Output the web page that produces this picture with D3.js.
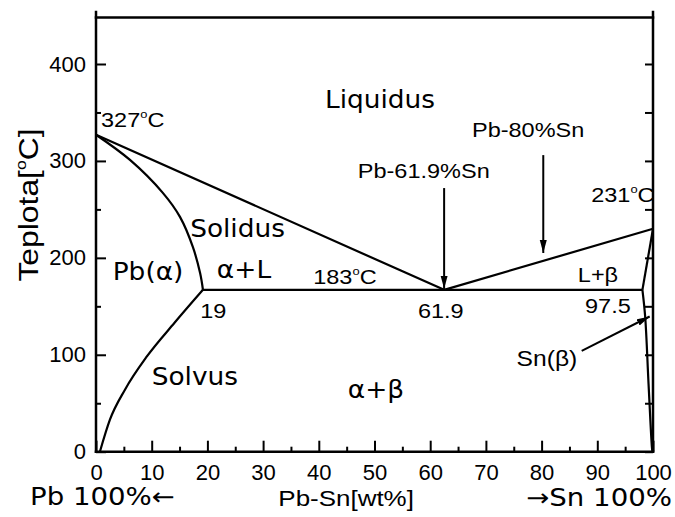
<!DOCTYPE html>
<html>
<head>
<meta charset="utf-8">
<script src="https://cdn.jsdelivr.net/npm/d3@7"></script>
<style>
  body { margin: 0; background: #fff; }
</style>
</head>
<body>
<svg width="675" height="517"></svg>
<script>
// phase boundaries, points are [wt% Sn, temperature]
var liquidus = [[0, 327], [62.5, 167], [100, 230]];
var solidusLeft = [[0, 327], [6.1, 301], [12, 267], [15.1, 242], [17.4, 211], [18.7, 184], [19.2, 167]];
var solvusLeft = [[0.7, 0], [2.5, 33], [5.2, 64], [9.1, 98], [14.1, 133], [19.2, 167]];
var eutectic = [[19.2, 167], [98.1, 167]];
var solidusRight = [[98.1, 167], [100, 230]];
var solvusRight = [[98.1, 167], [98.6, 139], [99.2, 70], [99.8, 5], [99.9, 0]];

// tick values
var xTicks = [0, 10, 20, 30, 40, 50, 60, 70, 80, 90, 100];
var xMinor = [5, 15, 25, 35, 45, 55, 65, 75, 85, 95];
var yTicks = [0, 100, 200, 300, 400];
var yMinor = [50, 150, 250, 350];

// arrows, [from, to]
var arrows = [
  [[62.5, 272], [62.5, 168]],
  [[80.3, 306], [80.3, 205]],
  [[87.2, 104], [99.4, 139.5]]
];

// region names [text, x, y]
var regionLabels = [
  ["Liquidus", 41.1, 354.7],
  ["Solidus", 16.9, 221.6],
  ["Pb(α)", 3.0, 177],
  ["α+L", 21.7, 179],
  ["Solvus", 10, 68.8],
  ["α+β", 45.2, 55.4]
];

// point / composition notes [text, x, y]
var pointLabels = [
  ["327°C", 0.9, 335],
  ["183°C", 39, 173],
  ["231°C", 88.9, 257.5],
  ["19", 18.7, 138],
  ["61.9", 57.8, 138],
  ["97.5", 87.8, 143],
  ["L+β", 86.5, 175],
  ["Pb-61.9%Sn", 47, 282.5],
  ["Pb-80%Sn", 67.5, 324.7]
];

var svg = d3.select("svg");

var x = d3.scaleLinear().domain([0, 100]).range([96, 653]);
var y = d3.scaleLinear().domain([0, 400]).range([451.7, 64]);

var sans = "'Liberation Sans', Arial, sans-serif",
    deja = "'DejaVu Sans', Verdana, sans-serif";

// arrow head
svg.append("defs").append("marker")
    .attr("id", "head")
    .attr("markerUnits", "userSpaceOnUse")
    .attr("markerWidth", 14)
    .attr("markerHeight", 8)
    .attr("refX", 13)
    .attr("refY", 4)
    .attr("orient", "auto")
  .append("path")
    .attr("d", "M0,0.5L13,4L0,7.5Z")
    .attr("fill", "#000");

// AXES
var gx = svg.append("g").attr("transform", "translate(0," + y(0) + ")");
gx.call(d3.axisBottom(x).tickValues(xTicks).tickSize(-11).tickSizeOuter(0).tickPadding(13));
gx.append("g").call(d3.axisBottom(x).tickValues(xMinor).tickSize(-5).tickSizeOuter(0).tickFormat(""));

var gy = svg.append("g").attr("transform", "translate(" + x(0) + ",0)");
gy.call(d3.axisLeft(y).tickValues(yTicks).tickSize(-10).tickSizeOuter(0).tickPadding(10));
gy.append("g").call(d3.axisLeft(y).tickValues(yMinor).tickSize(-5).tickSizeOuter(0).tickFormat(""));

var gr = svg.append("g").attr("transform", "translate(" + x(100) + ",0)");
gr.call(d3.axisRight(y).tickValues(yTicks.concat(yMinor)).tickSize(-8).tickSizeOuter(0).tickFormat(""));

svg.selectAll(".domain").remove();
svg.selectAll(".tick line").attr("stroke", "#000").attr("stroke-width", 2);
svg.selectAll(".tick text")
    .attr("font-family", sans)
    .attr("font-size", 22)
    .attr("fill", "#000");

// frame
var frameTop = y(448);
svg.append("g")
    .attr("stroke", "#000")
    .attr("stroke-width", 2.5)
    .attr("stroke-linecap", "square")
  .selectAll("line")
  .data([
    [x(0), 12, x(0), y(0)],
    [x(100), 12, x(100), y(0)],
    [x(0), y(0), x(100), y(0)],
    [x(0), frameTop, x(100), frameTop]
  ])
  .enter().append("line")
    .attr("x1", function(d) { return d[0]; })
    .attr("y1", function(d) { return d[1]; })
    .attr("x2", function(d) { return d[2]; })
    .attr("y2", function(d) { return d[3]; });

// PHASE LINES
var straight = d3.line().x(function(d) { return x(d[0]); }).y(function(d) { return y(d[1]); });
var curved = d3.line().x(function(d) { return x(d[0]); }).y(function(d) { return y(d[1]); })
    .curve(d3.curveCatmullRom.alpha(0.5));
var smooth = d3.line().x(function(d) { return x(d[0]); }).y(function(d) { return y(d[1]); })
    .curve(d3.curveMonotoneX);

var lines = svg.append("g")
    .attr("fill", "none")
    .attr("stroke", "#000")
    .attr("stroke-width", 2.2)
    .attr("stroke-linejoin", "round");

[liquidus, eutectic, solidusRight].forEach(function(d) {
  lines.append("path").attr("d", straight(d));
});
[solidusLeft, solvusRight].forEach(function(d) {
  lines.append("path").attr("d", curved(d));
});
lines.append("path").attr("d", smooth(solvusLeft));

// arrows
svg.append("g")
  .selectAll("line")
  .data(arrows)
  .enter().append("line")
    .attr("x1", function(d) { return x(d[0][0]); })
    .attr("y1", function(d) { return y(d[0][1]); })
    .attr("x2", function(d) { return x(d[1][0]); })
    .attr("y2", function(d) { return y(d[1][1]); })
    .attr("stroke", "#000")
    .attr("stroke-width", 2)
    .attr("marker-end", "url(#head)");

// LABELS
// "°" is drawn as a small raised o, like the original
function writeText(sel, str, size) {
  var parts = str.split("°");
  sel.append("tspan").text(parts[0]);
  if (parts.length > 1) {
    sel.append("tspan").attr("font-size", size * 0.55).attr("dy", -size * 0.45).text("o");
    sel.append("tspan").attr("dy", size * 0.45).text(parts[1]);
  }
}

// text in the original is a little stretched sideways
function at(px, py, sx) {
  return "translate(" + px + "," + py + ") scale(" + sx + ",1)";
}

svg.append("g")
    .attr("font-family", deja)
    .attr("font-size", 24)
  .selectAll("text")
  .data(regionLabels)
  .enter().append("text")
    .attr("transform", function(d) { return at(x(d[1]), y(d[2]), 1.1); })
    .text(function(d) { return d[0]; });

svg.append("g")
    .attr("font-family", sans)
    .attr("font-size", 21)
  .selectAll("text")
  .data(pointLabels)
  .enter().append("text")
    .attr("transform", function(d) { return at(x(d[1]), y(d[2]), 1.12); })
    .each(function(d) { writeText(d3.select(this), d[0], 21); });

svg.append("text")
    .attr("transform", at(x(86.4), y(88.5), 1.12))
    .attr("text-anchor", "end")
    .attr("font-family", sans)
    .attr("font-size", 22)
    .text("Sn(β)");

// axis titles
var ytitle = svg.append("text")
    .attr("transform", "translate(38,205) rotate(-90) scale(1.18,1)")
    .attr("text-anchor", "middle")
    .attr("font-family", sans)
    .attr("font-size", 27);
writeText(ytitle, "Teplota[°C]", 27);

svg.append("text")
    .attr("transform", at(x(44.9), 506, 1.18))
    .attr("text-anchor", "middle")
    .attr("font-family", sans)
    .attr("font-size", 22)
    .text("Pb-Sn[wt%]");

svg.append("text")
    .attr("transform", at(30, 505, 1.15))
    .attr("font-family", deja)
    .attr("font-size", 24)
    .text("Pb 100%←");

svg.append("text")
    .attr("transform", at(672, 506, 1.15))
    .attr("text-anchor", "end")
    .attr("font-family", deja)
    .attr("font-size", 24)
    .text("→Sn 100%");
</script>
</body>
</html>
